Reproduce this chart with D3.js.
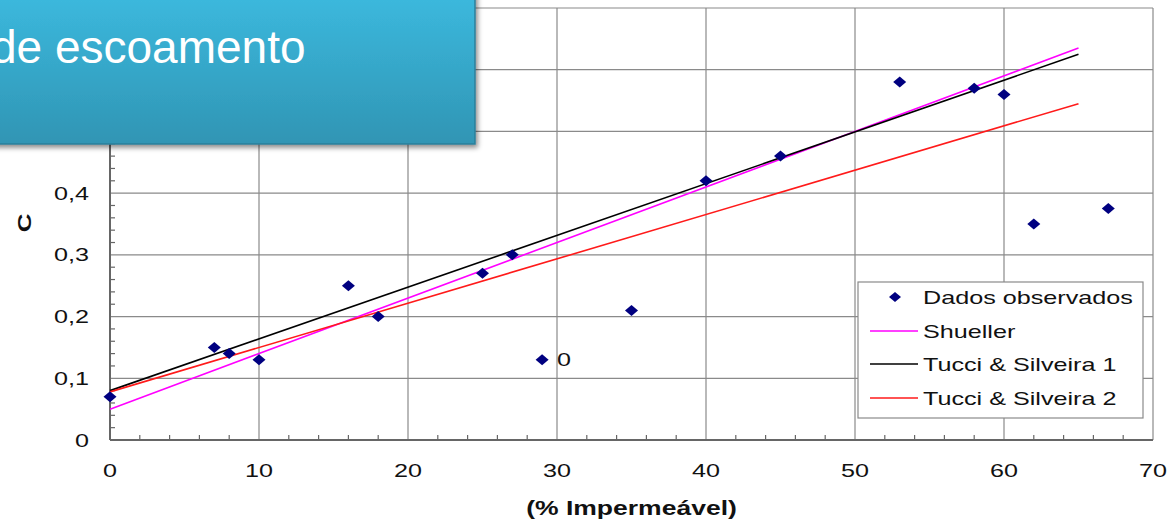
<!DOCTYPE html>
<html>
<head>
<meta charset="utf-8">
<script src="https://cdn.jsdelivr.net/npm/d3@7"></script>
<style>
  body { margin: 0; background: #fff; }
  svg { display: block; }
  text { font-family: "Liberation Sans", Arial, sans-serif; }
</style>
</head>
<body>
<svg id="svg" width="1173" height="526"></svg>
<script>
// observed points
var impermeavel = [0, 7, 8, 10, 16, 18, 25, 27, 29, 35, 40, 45, 53, 58, 60, 62, 67];
var coefC = [0.07, 0.15, 0.14, 0.13, 0.25, 0.20, 0.27, 0.30, 0.13, 0.21, 0.42, 0.46, 0.58, 0.57, 0.56, 0.35, 0.375];

// fitted lines (end points)
var lineX = [0, 65];
var shuellerC = [0.05, 0.635];
var tucci1C = [0.08, 0.625];
var tucci2C = [0.078, 0.545];

var seriesNames = ["Dados observados", "Shueller", "Tucci & Silveira 1", "Tucci & Silveira 2"];

var xTicks = [0, 10, 20, 30, 40, 50, 60, 70];
var yTicks = [0, 0.1, 0.2, 0.3, 0.4, 0.5, 0.6, 0.7];
// labels above 0,4 sit under the slide banner and are not visible
var yTickLabels = ["0", "0,1", "0,2", "0,3", "0,4"];

var svg = d3.select("#svg"),
    width = +svg.attr("width"),
    height = +svg.attr("height");

var sx = 1.36; // picture was stretched sideways

var x = d3.scaleLinear().domain([0, 70]).range([110, 1153]);
var y = d3.scaleLinear().domain([0, 0.7]).range([440, 8]);

function stext(g, tx, ty, str, anchor, size, weight) {
  return g.append("text")
      .attr("transform", "translate(" + tx + "," + ty + ") scale(" + sx + ",1)")
      .attr("text-anchor", anchor)
      .attr("font-size", size)
      .attr("font-weight", weight || "normal")
      .attr("fill", "#111")
      .text(str);
}

// grid
var grid = svg.append("g");
grid.selectAll(".vg").data(xTicks.slice(1)).enter().append("line")
    .attr("x1", d => x(d)).attr("x2", d => x(d))
    .attr("y1", y(0)).attr("y2", y(0.7))
    .attr("stroke", "#8a8a8a").attr("stroke-width", 1.2);
grid.selectAll(".hg").data(yTicks.slice(1)).enter().append("line")
    .attr("x1", x(0)).attr("x2", x(70))
    .attr("y1", d => y(d)).attr("y2", d => y(d))
    .attr("stroke", "#8a8a8a").attr("stroke-width", 1.2);

// minor ticks
var minorX = d3.range(2, 70, 2).filter(d => d % 10 != 0);
var minorY = d3.range(0.02, 0.7, 0.02).filter(d => Math.abs(d * 10 - Math.round(d * 10)) > 0.01);
grid.selectAll(".mx").data(minorX).enter().append("line")
    .attr("x1", d => x(d)).attr("x2", d => x(d))
    .attr("y1", y(0)).attr("y2", y(0) - 5)
    .attr("stroke", "#666").attr("stroke-width", 1.2);
grid.selectAll(".my").data(minorY).enter().append("line")
    .attr("x1", x(0)).attr("x2", x(0) + 5)
    .attr("y1", d => y(d)).attr("y2", d => y(d))
    .attr("stroke", "#666").attr("stroke-width", 1.2);

// axes frame
svg.append("line").attr("x1", x(0)).attr("x2", x(70)).attr("y1", y(0)).attr("y2", y(0))
    .attr("stroke", "#666").attr("stroke-width", 2);
svg.append("line").attr("x1", x(0)).attr("x2", x(0)).attr("y1", y(0)).attr("y2", y(0.7))
    .attr("stroke", "#666").attr("stroke-width", 2);

// tick labels
var labels = svg.append("g");
xTicks.forEach(function(d) { stext(labels, x(d), 477, String(d), "middle", 18.5); });
yTickLabels.forEach(function(l, i) { stext(labels, 89, y(yTicks[i]) + 6.5, l, "end", 18.5); });

// axis titles
stext(labels, x(35), 515, "(% Impermeável)", "middle", 19.5, "bold");
labels.append("text")
    .attr("transform", "translate(31,223) rotate(-90) scale(" + sx + ",1)")
    .attr("text-anchor", "middle")
    .attr("font-size", 19).attr("font-weight", "bold").attr("fill", "#111")
    .text("C");

// lines
var line = d3.line().x(d => x(d[0])).y(d => y(d[1]));
var fits = [
  {vals: shuellerC, color: "#ff00ff"},
  {vals: tucci1C, color: "#000000"},
  {vals: tucci2C, color: "#ff1a1a"}
];
fits.forEach(function(f) {
  svg.append("path")
      .datum(lineX.map((v, i) => [v, f.vals[i]]))
      .attr("d", line)
      .attr("fill", "none")
      .attr("stroke", f.color)
      .attr("stroke-width", 1.6);
});

// diamonds
function diamond(w, h) { return "M0," + (-h) + "L" + w + ",0L0," + h + "L" + (-w) + ",0Z"; }
svg.append("g").selectAll("path").data(impermeavel).enter().append("path")
    .attr("transform", (d, i) => "translate(" + x(d) + "," + y(coefC[i]) + ")")
    .attr("d", diamond(6.5, 5.5))
    .attr("fill", "#000080");

// stray label beside the 29% point
stext(svg, x(29) + 15, y(0.13) + 6.5, "0", "start", 18.5);

// legend
var lg = svg.append("g");
lg.append("rect").attr("x", 858).attr("y", 282).attr("width", 285).attr("height", 136)
    .attr("fill", "#fff").attr("stroke", "#8a8a8a").attr("stroke-width", 1.2);
var rowY = [297, 331, 364, 398];
lg.append("path").attr("transform", "translate(895," + rowY[0] + ")")
    .attr("d", diamond(6, 5)).attr("fill", "#000080");
fits.forEach(function(f, i) {
  lg.append("line").attr("x1", 870).attr("x2", 918)
      .attr("y1", rowY[i + 1]).attr("y2", rowY[i + 1])
      .attr("stroke", f.color).attr("stroke-width", 1.6);
});
seriesNames.forEach(function(n, i) { stext(lg, 923, rowY[i] + 6.5, n, "start", 18.5); });

// title banner (slide element)
var defs = svg.append("defs");
var grad = defs.append("linearGradient").attr("id", "bg").attr("x1", 0).attr("x2", 0).attr("y1", 0).attr("y2", 1);
grad.append("stop").attr("offset", "0%").attr("stop-color", "#3cbadf");
grad.append("stop").attr("offset", "100%").attr("stop-color", "#3095b4");
var flt = defs.append("filter").attr("id", "sh").attr("x", "-10%").attr("y", "-10%").attr("width", "130%").attr("height", "140%");
flt.append("feDropShadow").attr("dx", 2).attr("dy", 3).attr("stdDeviation", 2.5)
    .attr("flood-color", "#000").attr("flood-opacity", 0.45);

svg.append("rect").attr("x", -10).attr("y", -10).attr("width", 485).attr("height", 154)
    .attr("fill", "url(#bg)").attr("stroke", "#2b7f9a").attr("stroke-width", 1.5)
    .attr("filter", "url(#sh)");
svg.append("text")
    .attr("x", -9).attr("y", 63)
    .attr("font-family", "Roboto, 'Open Sans', sans-serif")
    .attr("font-size", 46)
    .attr("fill", "#fff")
    .text("de escoamento");
</script>
</body>
</html>
